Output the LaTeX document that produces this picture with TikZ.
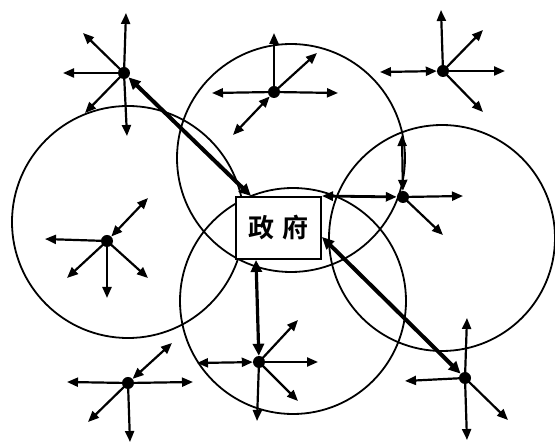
\documentclass[tikz,border=0pt]{standalone}
\usepackage{fontspec}
\newfontfamily\cjk{Noto Sans CJK SC}[BoldFont={Noto Sans CJK SC Bold}]
\usetikzlibrary{arrows.meta}
\begin{document}
\begin{tikzpicture}[x=1pt,y=-1pt,
  ring/.style={line width=1.8pt},
  blob/.style={circle,fill=black,inner sep=0pt,minimum size=12pt},
  arr/.style={line width=2.2pt,-{Triangle[length=11pt,width=9pt]}},
  darr/.style={line width=2.2pt,{Triangle[length=11pt,width=9pt]}-{Triangle[length=11pt,width=9pt]}},
  tarr/.style={line width=4pt,{Triangle[length=12pt,width=11pt]}-{Triangle[length=12pt,width=11pt]}},
  govbox/.style={draw,line width=2pt,fill=white,minimum width=85pt,minimum height=62pt,inner sep=0pt,font=\cjk\bfseries\fontsize{26}{26}\selectfont}
]
\useasboundingbox (0,0) rectangle (555,443);
% circles
\draw[ring] (128,222) circle (116);
\draw[ring] (291,158) circle (114);
\draw[ring] (442,238) circle (113);
\draw[ring] (293,301) circle (113);
% government
\node[govbox] (gov) at (278.5,228) {政\hspace{8pt}府};
% agents
\node[blob] (a1) at (124,73) {};
\node[blob] (a2) at (274,92) {};
\node[blob] (a3) at (443,71) {};
\node[blob] (a4) at (107,241) {};
\node[blob] (a5) at (403,197) {};
\node[blob] (a6) at (259,362) {};
\node[blob] (a7) at (128,383) {};
\node[blob] (a8) at (465,378) {};
% A1
\draw[arr] (a1.center) -- ++(2,-60);
\draw[arr] (a1.center) -- ++(-41,-40);
\draw[arr] (a1.center) -- ++(-61,0);
\draw[arr] (a1.center) -- ++(-39,40);
\draw[arr] (a1.center) -- ++(3,63);
% A2
\draw[arr] (a2.center) -- ++(0,-59);
\draw[arr] (a2.center) -- ++(43,-39);
\draw[arr] (a2.center) -- ++(64,1);
\draw[arr] (a2.center) -- ++(-62,1);
\draw[darr] (a2) -- ++(-41,43);
% A3
\draw[arr] (a3.center) -- ++(-2,-61);
\draw[arr] (a3.center) -- ++(40,-41);
\draw[arr] (a3.center) -- ++(62,0);
\draw[darr] (a3) -- ++(-63,1);
\draw[arr] (a3.center) -- ++(40,41);
% A4
\draw[darr] (a4) -- ++(41,-43);
\draw[arr] (a4.center) -- ++(-62,-2);
\draw[arr] (a4.center) -- ++(-40,37);
\draw[arr] (a4.center) -- ++(0,57);
\draw[arr] (a4.center) -- ++(41,37);
% A5
\draw[darr] (a5) -- ++(-1,-62);
\draw[arr] (a5.center) -- ++(60,-1);
\draw[arr] (a5.center) -- ++(40,38);
% A6
\draw[darr] (a6) -- ++(-62,1);
\draw[arr] (a6.center) -- ++(59,0);
\draw[arr] (a6.center) -- ++(39,-42);
\draw[arr] (a6.center) -- ++(39,39);
\draw[arr] (a6.center) -- ++(-2,59);
% A7
\draw[arr] (a7.center) -- ++(-61,-1);
\draw[arr] (a7.center) -- ++(65,-1);
\draw[darr] (a7) -- ++(44,-40);
\draw[arr] (a7.center) -- ++(-40,39);
\draw[arr] (a7.center) -- ++(2,59);
% A8
\draw[arr] (a8.center) -- ++(2,-60);
\draw[arr] (a8.center) -- ++(-60,3);
\draw[arr] (a8.center) -- ++(2,62);
\draw[arr] (a8.center) -- ++(43,42);
% links with government
\draw[tarr] (a1) -- ([xshift=16pt]gov.north west);
\draw[darr,line width=2.8pt] (gov.north east) -- (a5);
\draw[tarr,line width=3.2pt] ([xshift=21pt]gov.south west) -- (a6);
\draw[tarr] ([yshift=-9pt]gov.east) -- (a8);
\end{tikzpicture}
\end{document}
